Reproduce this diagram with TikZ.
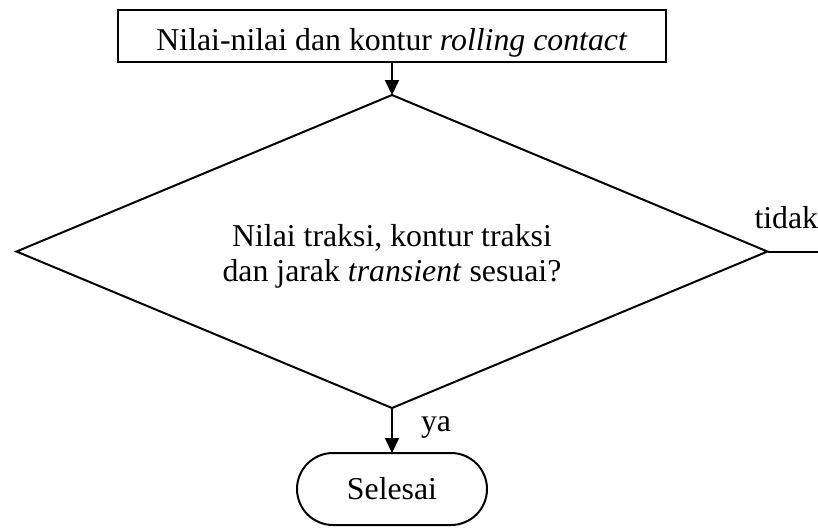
\documentclass[tikz,border=0pt]{standalone}
\usepackage{fontspec}
\setmainfont{Liberation Serif}
\usetikzlibrary{arrows.meta,positioning,shapes.geometric}
\tikzset{
  proses/.style={rectangle, draw, line width=1pt, outer sep=0pt, inner xsep=0pt,
                 inner ysep=0pt, minimum width=274pt, text height=20pt, text depth=6pt},
  keputusan/.style={diamond, draw, line width=1pt, outer sep=0pt, align=center,
                    aspect=2.4, inner sep=0pt, minimum width=375.5pt,
                    minimum height=156.5pt, text height=33.5pt, text depth=3.5pt},
  terminator/.style={rectangle, rounded corners=18pt, draw, line width=1pt,
                     outer sep=0pt, minimum width=95pt, minimum height=36pt},
  flow/.style={-{Triangle[length=7.5pt,width=7pt]}, line width=1pt},
  flowlabel/.style={inner sep=0pt},
}

\begin{document}
\begin{tikzpicture}[x=0.5pt, y=-0.5pt, node distance=16.5pt,
    every node/.style={font=\fontsize{15.9pt}{17.5pt}\selectfont}]
  \useasboundingbox (0,0) rectangle (818,527);

  % proses dan keputusan
  \node[proses] (nilai) at (392,36) {Nilai-nilai dan kontur \textit{rolling contact}};
  \node[keputusan, below=of nilai] (cek) {Nilai traksi, kontur traksi\\dan jarak \textit{transient} sesuai?};
  \node[terminator, below=22.5pt of cek] (selesai) {Selesai};
  \coordinate[right=25.5pt of cek.east] (ujung);

  % alur
  \draw[flow] (nilai) -- (cek);
  \draw[flow] (cek) -- node[flowlabel, pos=0.53, anchor=base west, xshift=14pt]{ya} (selesai);
  \draw[line width=1pt] (cek.east) -- node[flowlabel, pos=0, anchor=base west, xshift=-7pt, yshift=11.5pt]{tidak} (ujung);
\end{tikzpicture}
\end{document}
